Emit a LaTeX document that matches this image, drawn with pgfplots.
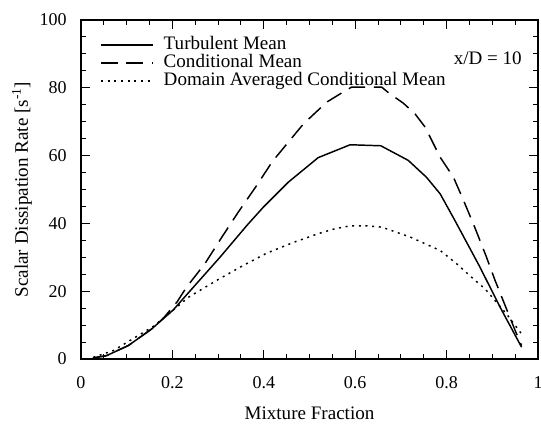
\documentclass[border=0pt]{standalone}
\usepackage{fontspec}
\setmainfont{Liberation Serif}
\usepackage{pgfplots}
\pgfplotsset{compat=1.18}
\begin{document}
\begin{tikzpicture}
\begin{axis}[
  name=ax,
  scale only axis,
  width=342.75pt, height=254.25pt,
  xmin=0, xmax=1, ymin=0, ymax=100,
  xtick={0,0.2,0.4,0.6,0.8,1},
  xticklabels={0,0.2,0.4,0.6,0.8,1},
  ytick={0,20,40,60,80,100},
  minor x tick num=3, minor y tick num=3,
  tick align=inside,
  xtick pos=both, ytick pos=both,
  major tick length=7pt, minor tick length=3.9pt,
  axis line style={line width=1.4pt},
  every tick/.style={black, line width=0.7pt},
  tick label style={font=\fontsize{13.5}{15}\selectfont},
  /pgf/number format/assume math mode=true,
  xticklabel style={anchor=center, yshift=-18pt},
  yticklabel style={anchor=east, inner sep=0pt, xshift=-10.5pt},
  xlabel={Mixture Fraction},
  xlabel style={at={(axis description cs:0.5,0)}, anchor=center, yshift=-40.5pt, font=\fontsize{14.3}{16}\selectfont},
  ylabel={Scalar Dissipation Rate [s\textsuperscript{-1}]},
  ylabel style={at={(axis description cs:-0.129,0.5)}, anchor=center, font=\fontsize{14.3}{16}\selectfont},
  legend style={at={(axis description cs:0.0416,0.954)}, anchor=north west, draw=none, fill=none,
    font=\fontsize{14.3}{16}\selectfont, inner sep=0pt, row sep=0pt, column sep=7.5pt,
    nodes={inner sep=0pt, text height=10pt, text depth=3.6pt}},
  legend cell align=left,
  legend image code/.code={\draw[#1] (0pt,0pt) -- (39pt,0pt);},
]
\addplot[black, line width=1.1pt] coordinates {
(0.026,0.3) (0.056,1.0) (0.104,4.0) (0.155,8.9) (0.202,14.5) (0.246,21.2)
(0.304,30.0) (0.363,39.4) (0.399,44.8) (0.454,52.2) (0.519,59.4) (0.589,63.2)
(0.656,62.9) (0.716,58.6) (0.756,53.6) (0.786,48.7) (0.818,40.9) (0.873,27.1)
(0.917,15.3) (0.964,3.5)
};
\addlegendentry{Turbulent Mean}
\addplot[black, line width=1.1pt, dash pattern=on 12.5pt off 6.5pt] coordinates {
(0.026,0.3) (0.056,1.0) (0.104,4.0) (0.155,8.9) (0.18,12.0) (0.21,16.8)
(0.231,21.2) (0.271,28.1) (0.308,35.9) (0.344,43.3) (0.383,50.9) (0.419,58.3)
(0.487,69.4) (0.538,75.8) (0.567,78.2) (0.592,80.2) (0.658,80.2) (0.676,78.2)
(0.705,75.5) (0.731,72.3) (0.753,68.4) (0.786,59.5) (0.815,53.6) (0.837,46.8)
(0.862,38.7) (0.886,30.5) (0.906,23.2) (0.928,15.8) (0.95,8.4) (0.964,4.0)
};
\addlegendentry{Conditional Mean}
\addplot[black, line width=1.1pt, dash pattern=on 1.5pt off 3.5pt] coordinates {
(0.027,0.5) (0.071,2.5) (0.114,6.0) (0.158,9.6) (0.198,14.0) (0.235,18.2)
(0.297,23.2) (0.355,27.6) (0.406,31.2) (0.465,34.4) (0.52,37.0) (0.552,38.3)
(0.589,39.3) (0.625,39.3) (0.658,38.9) (0.72,36.0) (0.786,32.0) (0.822,28.1)
(0.858,23.7) (0.884,20.7) (0.931,13.3) (0.964,7.4)
};
\addlegendentry{Domain Averaged Conditional Mean}
\node[anchor=east, xshift=-12pt, yshift=-29pt, font=\fontsize{14.3}{16}\selectfont, inner sep=0pt] at (rel axis cs:1,1) {x/D = 10};
\end{axis}
\pgfresetboundingbox
\path[use as bounding box] ([xshift=-60.75pt,yshift=-51.75pt]ax.south west) rectangle ([xshift=2.25pt,yshift=15pt]ax.north east);
\end{tikzpicture}
\end{document}
